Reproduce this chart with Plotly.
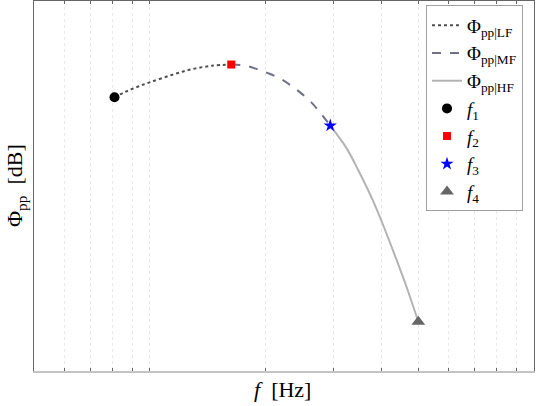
import math
import plotly.graph_objects as go

# Frequencies (Hz) and levels (dB)
lf_f = [81, 86, 93, 100, 114, 128, 145, 163]
lf_db = [-15.6, -14.8, -13.9, -13.2, -12.0, -11.1, -10.5, -10.3]

mf_f = [163, 178, 191, 205, 220, 233, 247, 263, 276, 295]
mf_db = [-10.3, -10.5, -11.1, -11.8, -12.7, -13.7, -14.9, -16.4, -17.9, -20.2]

hf_f = [295, 324, 350, 380, 403, 436, 468, 500]
hf_db = [-20.2, -23.7, -27.6, -32.2, -36.0, -41.5, -46.7, -52.0]

pt_names = ["<i>f</i><sub>1</sub>", "<i>f</i><sub>2</sub>", "<i>f</i><sub>3</sub>", "<i>f</i><sub>4</sub>"]
pt_f = [81, 163, 295, 500]
pt_db = [-15.6, -10.3, -20.2, -52.0]
pt_symbols = ["circle", "square", "star", "triangle-up"]
pt_colors = ["#000000", "#ff0000", "#0000ff", "#666666"]
pt_sizes = [10, 8, 10, 12]

x_range_hz = [50, 1000]
y_range_db = [-60, 0]

FONT = "Liberation Serif"

fig = go.Figure()
fig.add_trace(go.Scatter(x=lf_f, y=lf_db, mode="lines", line_shape="spline",
                         line=dict(color="#505050", width=2, dash="dot"),
                         name="Φ<sub>pp|LF</sub>"))
fig.add_trace(go.Scatter(x=mf_f, y=mf_db, mode="lines", line_shape="spline",
                         line=dict(color="#6f7086", width=2, dash="dash"),
                         name="Φ<sub>pp|MF</sub>"))
fig.add_trace(go.Scatter(x=hf_f, y=hf_db, mode="lines", line_shape="spline",
                         line=dict(color="#b3b3b3", width=2),
                         name="Φ<sub>pp|HF</sub>"))
for n, f, d, s, c, sz in zip(pt_names, pt_f, pt_db, pt_symbols, pt_colors, pt_sizes):
    fig.add_trace(go.Scatter(x=[f], y=[d], mode="markers", name=n,
                             marker=dict(symbol=s, color=c, size=sz, line=dict(width=0))))
# dummy trace to activate the top axis
fig.add_trace(go.Scatter(x=[pt_f[0]], y=[None], xaxis="x2", showlegend=False,
                         mode="markers", hoverinfo="skip"))

xr = [math.log10(x_range_hz[0]), math.log10(x_range_hz[1])]

fig.update_layout(
    width=536, height=406,
    margin=dict(l=34, r=1, t=1, b=35),
    paper_bgcolor="white", plot_bgcolor="white",
    font=dict(family=FONT, size=19, color="#000000"),
    showlegend=True,
    legend=dict(x=0.784, y=0.988, xanchor="left", yanchor="top",
                bgcolor="white", bordercolor="#a0a0a0", borderwidth=1,
                font=dict(family=FONT, size=19), tracegroupgap=0,
                itemwidth=30),
    xaxis=dict(type="log", range=xr, dtick="D1", showticklabels=False,
               showgrid=True, gridcolor="#e8e8e8", griddash="dot", gridwidth=1,
               ticks="inside", ticklen=3, tickcolor="#666666",
               showline=True, linecolor="#c4c4c4", linewidth=2, mirror=False,
               zeroline=False),
    xaxis2=dict(type="log", range=xr, dtick="D1", overlaying="x", side="top",
                showticklabels=False, showgrid=False,
                ticks="inside", ticklen=3, tickcolor="#666666",
                showline=True, linecolor="#666666", linewidth=1),
    yaxis=dict(range=y_range_db, showticklabels=False, showgrid=False, ticks="",
               showline=True, linecolor="#666666", linewidth=1, mirror=True,
               zeroline=False),
    annotations=[
        dict(text="<i>f</i>  [Hz]", xref="paper", yref="paper", x=0.497, y=-0.05,
             xanchor="center", yanchor="middle", showarrow=False,
             font=dict(family=FONT, size=22)),
        dict(text="Φ<sub>pp</sub>  [dB]", xref="paper", yref="paper", x=-0.036, y=0.5,
             xanchor="center", yanchor="middle", showarrow=False, textangle=-90,
             font=dict(family=FONT, size=22)),
    ],
)

post = ("document.body.style.margin='0';document.body.style.padding='0';"
        "document.body.style.overflow='hidden';"
        "var gd=document.getElementById('{plot_id}');"
        "Plotly.relayout(gd,{width:536,height:406});")

fig.write_html("out.html", post_script=post,
               config={"responsive": False, "displayModeBar": False})
